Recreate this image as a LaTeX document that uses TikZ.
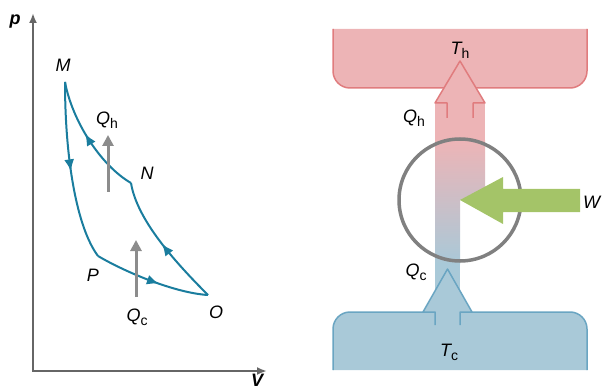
\documentclass[tikz,border=0pt]{standalone}
\usepackage{fontspec}
\setmainfont{Liberation Sans}
\usetikzlibrary{arrows.meta,decorations.markings}

\definecolor{cyc}{HTML}{1A7D9E}
\definecolor{axisgray}{HTML}{666666}
\definecolor{heatgray}{HTML}{8C8C8C}
\definecolor{ringgray}{HTML}{808080}
\definecolor{hotfill}{HTML}{EDB4B6}
\definecolor{hotline}{HTML}{E07C7E}
\definecolor{coldfill}{HTML}{A9C9D8}
\definecolor{coldline}{HTML}{6AA5C2}
\definecolor{workgreen}{HTML}{A4C468}

\newcommand{\lowsub}[1]{\raisebox{-0.4ex}{\fontsize{14}{14}\selectfont\upshape #1}}

\tikzset{
  lbl/.style={inner sep=0pt, font=\fontsize{18}{21}\selectfont\itshape},
  axlbl/.style={lbl, font=\fontsize{18}{21}\selectfont\bfseries\itshape},
  path arrow/.style={postaction={decorate},
    decoration={markings, mark=at position #1 with {\arrow{Latex[length=12pt,width=10pt]}}}},
  cycline/.style={cyc, line width=2pt},
  heatarrow/.style={heatgray, line width=3pt, -{Triangle[length=11pt,width=11pt]}},
}

\begin{document}
\begin{tikzpicture}[x=1pt,y=-1pt,line join=round]
\useasboundingbox (0,0) rectangle (602,390);

% p-V diagram
\coordinate (org) at (33,371);
\coordinate (ptop) at (33,13);
\coordinate (vend) at (267,371);
\coordinate (M) at (65,82);
\coordinate (N) at (131,183);
\coordinate (P) at (98,256);
\coordinate (O) at (208,295);
\coordinate (qh0) at (108,192);
\coordinate (qh1) at (108,135);
\coordinate (qc0) at (136,297);
\coordinate (qc1) at (136,240);

\draw[axisgray, line width=2.2pt, line join=miter, {Latex[length=10pt,width=8pt]}-{Latex[length=10pt,width=8pt]}] (ptop) -- (org) -- (vend);
\node[axlbl] (plab) at (15,22) {p};
\node[axlbl, anchor=north west] (vlab) at (251,374) {V};

\draw[cycline, path arrow=0.5] (M) .. controls (65,160) and (77,228) .. (P);
\draw[cycline, path arrow=0.57] (P) .. controls (125,272) and (175,293) .. (O);
\draw[cycline, path arrow=0.5] (O) .. controls (175,262) and (137,220) .. (N);
\draw[cycline, path arrow=0.55] (N) .. controls (100,165) and (72,120) .. (M);

\draw[heatarrow] (qh0) -- (qh1);
\draw[heatarrow] (qc0) -- (qc1);

\node[lbl] (Mlab) at (63,65) {M};
\node[lbl] (Nlab) at (147,173) {N};
\node[lbl] (Plab) at (93,275) {P};
\node[lbl] (Olab) at (216,312) {O};
\node[lbl] (Qhlab) at (107,120) {Q\lowsub{h}};
\node[lbl] (Qclab) at (137,317) {Q\lowsub{c}};

% reservoirs and engine
\coordinate (c) at (460,200);

\fill[hotfill, rounded corners=17pt] (333,29) -- (333,88) -- (587,88) -- (587,29);
\draw[hotline, line width=1.5pt, rounded corners=17pt] (333,29) -- (333,88) -- (587,88) -- (587,29);
\fill[coldfill, rounded corners=17pt] (333,370) -- (333,312) -- (587,312) -- (587,370);
\draw[coldline, line width=1.5pt, rounded corners=17pt] (333,370) -- (333,312) -- (587,312) -- (587,370);

\fill[hotfill] (435,102) rectangle (485,141);
\shade[top color=hotfill, bottom color=coldfill] (435,140) -- (485,140) -- (485,200) -- (460,200) -- (460,264) -- (435,264) -- cycle;
\fill[coldfill] (435,263) rectangle (460,313);

\filldraw[fill=hotfill, draw=hotline, line width=1.5pt] (447,118) -- (447,103) -- (435,103) -- (460,61) -- (485,103) -- (473,103) -- (473,118);
\filldraw[fill=coldfill, draw=coldline, line width=1.5pt] (435,325) -- (435,312) -- (423,312) -- (447.5,269) -- (472,312) -- (460,312) -- (460,325);

\draw[ringgray, line width=3.5pt] (c) circle[radius=61];
\fill[workgreen] (c) -- (503,177) -- (503,189) -- (580,189) -- (580,212) -- (503,212) -- (503,224) -- cycle;

\node[lbl] (Thlab) at (460,50) {T\lowsub{h}};
\node[lbl] (Qhr) at (414,118) {Q\lowsub{h}};
\node[lbl] (Qcr) at (416,272) {Q\lowsub{c}};
\node[lbl] (Tclab) at (449,352) {T\lowsub{c}};
\node[lbl, anchor=west] (Wlab) at (583,202) {W};

\end{tikzpicture}
\end{document}
